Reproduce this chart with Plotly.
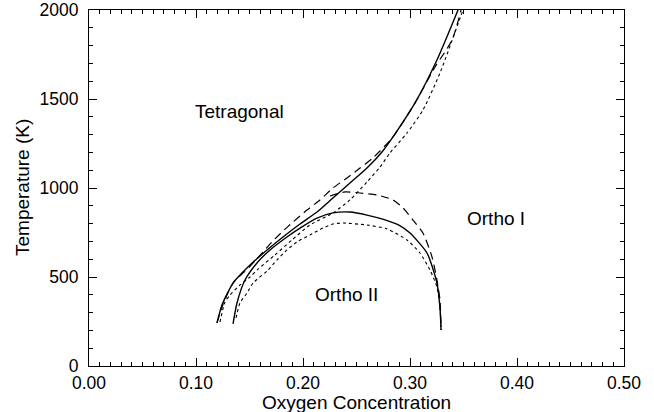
import plotly.graph_objects as go

# Solid model: tetragonal / ortho-I boundary
solid_to_x = [0.1196, 0.1243, 0.1346, 0.1505, 0.1664, 0.1813, 0.1972, 0.2131, 0.2280, 0.2439, 0.2598, 0.2738, 0.2841, 0.3047, 0.3252, 0.3449]
solid_to_T = [242, 343, 466, 567, 652, 725, 798, 865, 944, 1028, 1112, 1202, 1287, 1478, 1719, 2000]
# Solid model: ortho-I / ortho-II dome
solid_dome_x = [0.1346, 0.1383, 0.1458, 0.1570, 0.1692, 0.1850, 0.1972, 0.2131, 0.2280, 0.2439, 0.2598, 0.2760, 0.2900, 0.3000, 0.3159, 0.3252, 0.3280, 0.3290]
solid_dome_T = [236, 354, 483, 579, 652, 725, 775, 831, 860, 865, 848, 822, 790, 747, 635, 466, 331, 202]

# Dashed model
dash_to_x = [0.1196, 0.1250, 0.1346, 0.1505, 0.1710, 0.1804, 0.1907, 0.2037, 0.2159, 0.2280, 0.2411, 0.2533, 0.2654, 0.2841, 0.3047, 0.3234, 0.3393, 0.3477]
dash_to_T = [242, 343, 466, 560, 697, 753, 809, 876, 933, 1000, 1056, 1112, 1169, 1287, 1478, 1680, 1831, 2000]
dash_dome_x = [0.2252, 0.2393, 0.2533, 0.2692, 0.2841, 0.2935, 0.3028, 0.3121, 0.3206, 0.3252, 0.3280, 0.3290]
dash_dome_T = [955, 978, 972, 961, 933, 888, 820, 747, 612, 483, 371, 202]

# Dotted model
dot_to_x = [0.1224, 0.1271, 0.1318, 0.1411, 0.1505, 0.1570, 0.1738, 0.1897, 0.2065, 0.2280, 0.2439, 0.2598, 0.2720, 0.2813, 0.2972, 0.3121, 0.3280, 0.3495]
dot_to_T = [247, 360, 399, 455, 500, 539, 624, 708, 792, 860, 933, 1034, 1118, 1197, 1309, 1438, 1646, 2000]
dot_dome_x = [0.1374, 0.1411, 0.1477, 0.1533, 0.1673, 0.1757, 0.1850, 0.1944, 0.2065, 0.2187, 0.2280, 0.2374, 0.2598, 0.2785, 0.2972, 0.3093, 0.3187, 0.3252, 0.3280, 0.3290]
dot_dome_T = [270, 354, 410, 466, 539, 596, 652, 697, 736, 775, 798, 803, 792, 770, 708, 635, 539, 444, 331, 219]

phase_labels = ["Tetragonal", "Ortho I", "Ortho II"]
phase_x = [0.141, 0.380, 0.241]
phase_T = [1427, 831, 399]

x_title = "Oxygen Concentration"
y_title = "Temperature (K)"

FONT = "Liberation Sans, Arial, sans-serif"

fig = go.Figure()
styles = [
    (solid_to_x, solid_to_T, "solid", 1.4),
    (solid_dome_x, solid_dome_T, "solid", 1.4),
    (dash_to_x, dash_to_T, "8px,5px", 1.2),
    (dash_dome_x, dash_dome_T, "8px,5px", 1.2),
    (dot_to_x, dot_to_T, "dot", 1.1),
    (dot_dome_x, dot_dome_T, "dot", 1.1),
]
for xs, ts, dash, w in styles:
    fig.add_trace(go.Scatter(x=xs, y=ts, mode="lines",
                             line=dict(color="black", width=w, dash=dash, shape="spline", smoothing=0.6),
                             showlegend=False, hoverinfo="skip"))

for lab, xx, tt in zip(phase_labels, phase_x, phase_T):
    fig.add_annotation(x=xx, y=tt, text=lab, showarrow=False,
                       font=dict(family=FONT, size=19, color="black"))

# axis titles placed as paper-anchored annotations
fig.add_annotation(xref="paper", yref="paper", x=0.5, y=0, yanchor="middle", yshift=-36,
                   text=x_title, showarrow=False, font=dict(family=FONT, size=19, color="black"))
fig.add_annotation(xref="paper", yref="paper", x=0, y=0.5, xanchor="center", xshift=-67,
                   textangle=-90, text=y_title, showarrow=False,
                   font=dict(family=FONT, size=19, color="black"))

axis_common = dict(
    showgrid=False, zeroline=False, showline=True, linecolor="black", linewidth=1,
    mirror="ticks", ticks="inside", ticklen=8, tickwidth=1, tickcolor="black",
    tickfont=dict(family=FONT, size=17.5, color="black"), automargin=False,
    ticklabeloverflow="allow",
)
fig.update_xaxes(range=[0, 0.5], tick0=0, dtick=0.1, tickformat=".2f", ticklabelstandoff=1,
                 minor=dict(dtick=0.01, ticklen=4, ticks="inside", tickcolor="black", tickwidth=1),
                 **axis_common)
fig.update_yaxes(range=[0, 2000], tick0=0, dtick=500, ticklabelstandoff=6,
                 minor=dict(dtick=100, ticklen=4, ticks="inside", tickcolor="black", tickwidth=1),
                 **axis_common)
fig.update_layout(width=654, height=412, margin=dict(l=89, r=30, t=10, b=46),
                  paper_bgcolor="white", plot_bgcolor="white")
# remove the default 8px page margin so the figure fills the window exactly
fig.write_html("out.html", config={"displayModeBar": False},
               post_script="document.body.style.margin='0';")
